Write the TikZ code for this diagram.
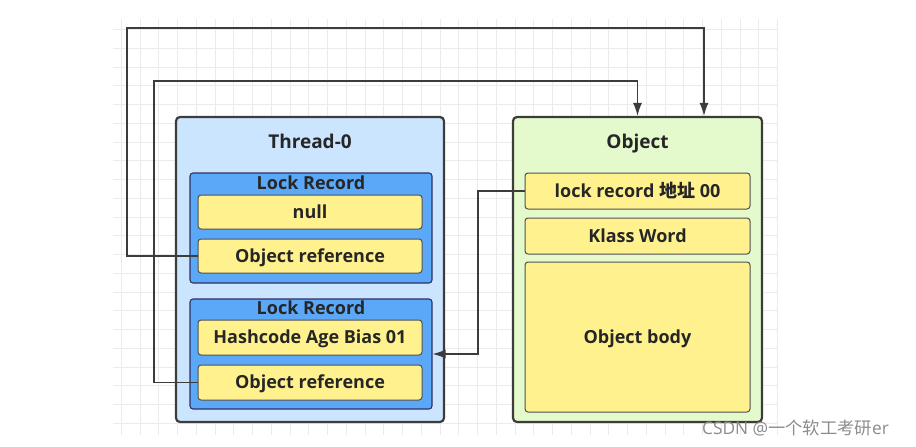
\documentclass[tikz,border=0pt]{standalone}
\usepackage{fontspec}
\setmainfont{Open Sans}
\newfontfamily\cjk{Noto Sans CJK SC}
\usetikzlibrary{arrows.meta, positioning}

\definecolor{threadblue}{HTML}{CCE5FF}
\definecolor{lockblue}{HTML}{5CA8F8}
\definecolor{fieldyellow}{HTML}{FFF28E}
\definecolor{objgreen}{HTML}{E4F9CC}
\definecolor{linegray}{HTML}{3C3C3C}
\definecolor{textgray}{HTML}{262626}

\begin{document}
\begin{tikzpicture}[x=1pt,y=-1pt,font=\bfseries\fontsize{18}{20}\selectfont,
	>={Latex[length=13pt,width=9pt]},line width=1.2pt]
	
	\tikzset{outer st/.style={draw=linegray, line width=2.2pt,
			rounded corners=4pt, text=textgray},
		lock st/.style={draw=linegray!80!blue, fill=lockblue,
			rounded corners=3pt, line width=1.1pt,
			minimum width=242pt, minimum height=110pt},
		field st/.style={draw=linegray!90, fill=fieldyellow,
			rounded corners=3pt, line width=1pt, text=textgray,
			minimum width=224pt, minimum height=34pt,
			text height=14.5pt, text depth=2pt},
		title st/.style={text=textgray, inner sep=0pt,
			text height=13pt, text depth=0pt},
		conn st/.style={draw=linegray, line width=1.3pt, ->},
		grid st/.style={draw=black!8, line width=0.8pt}}
	
	\useasboundingbox (0,0) rectangle (916,447);
	
	% background grid
	\foreach \gx in {0,...,35}
		\draw[grid st] ({121.25+18.75*\gx},19) -- ++(0,416);
	\foreach \gy in {0,...,21}
		\draw[grid st] (113,{29.5+18.75*\gy}) -- ++(665,0);
	
	% thread stack
	\node[outer st, fill=threadblue, minimum width=268pt, minimum height=305pt]
		(thread) at (310,269.5) {};
	\node[title st, font=\bfseries\fontsize{19}{22}\selectfont] (tname) at (310,142) {Thread-0};
	
	\node[lock st] (lr1) at (311,228) {};
	\node[title st] (lrname1) at (311,183) {Lock Record};
	\node[field st] (null) at (310,212) {null};
	\node[field st] (ref1) at (310,256) {Object reference};
	
	\node[lock st] (lr2) at (311,354) {};
	\node[title st] (lrname2) at (311,308) {Lock Record};
	\node[field st, minimum height=35pt] (hash) at (310,337.5) {Hashcode Age Bias 01};
	\node[field st, minimum height=35pt] (ref2) at (310,382.5) {Object reference};
	
	% object
	\node[outer st, fill=objgreen, minimum width=249pt, minimum height=305pt]
		(obj) at (637.5,269.5) {};
	\node[title st, font=\bfseries\fontsize{19}{22}\selectfont] (oname) at (637.5,142) {Object};
	\node[field st, minimum width=225pt, minimum height=36pt]
		(mark) at (637.5,191) {lock record {\cjk 地址} 00};
	\node[field st, minimum width=225pt, minimum height=36pt]
		(klass) at (637.5,236) {Klass Word};
	\node[field st, minimum width=225pt, minimum height=150pt]
		(body) at (637.5,337) {Object body};
	
	% connectors
	\coordinate (t1) at (127,28);
	\coordinate (t2) at (154,81);
	\coordinate (t3) at (478,270);
	
	\draw[conn st] (ref1.west) -| (t1) -| ([xshift=66.5pt]obj.north);
	\draw[conn st] (ref2.west) -| (t2) -| (obj.north);
	\draw[conn st] (mark.west) -| (t3) |- (lr2.east);
	
	\node[text=black!45, font=\fontsize{17.3}{20}\selectfont, inner sep=0pt]
		(wm) at (795.5,428) {CSDN @{\cjk 一个软工考研}er};
	
\end{tikzpicture}
\end{document}
